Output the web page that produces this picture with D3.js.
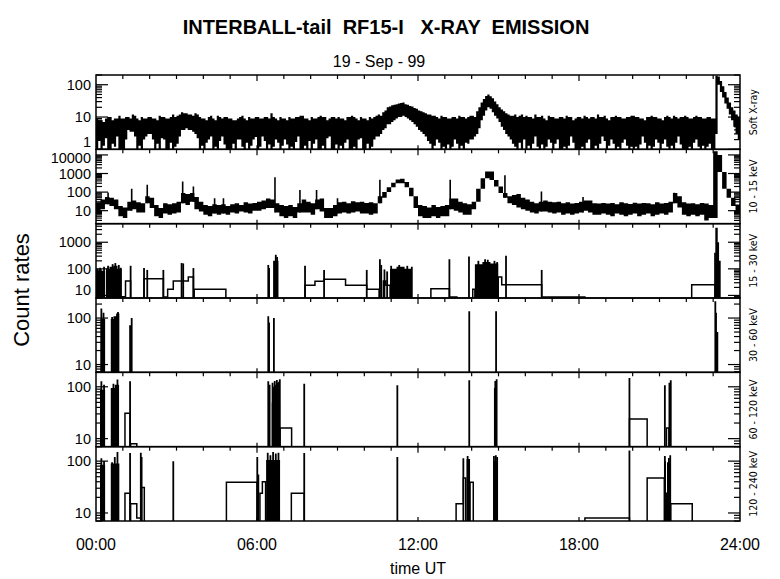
<!DOCTYPE html>
<html><head><meta charset="utf-8">
<script src="https://cdn.jsdelivr.net/npm/d3@7"></script>
<style>
body{margin:0;background:#fff}
svg{display:block}
text{font-family:"Liberation Sans",Arial,sans-serif;fill:#000}
</style>
</head><body>
<svg id="chart" width="780" height="579"></svg>
<script>
// ---------------- DATA ----------------
const titleText = "INTERBALL-tail  RF15-I   X-RAY  EMISSION";
const dateText = "19 - Sep - 99";
const timeTickHours = [0, 6, 12, 18, 24];
const timeTickLabels = ["00:00", "06:00", "12:00", "18:00", "24:00"];
const channelNames = ["Soft X-ray", "10 - 15 keV", "15 - 30 keV", "30 - 60 keV", "60 - 120 keV", "120 - 240 keV"];
const channelDomains = [[1, 200], [2, 20000], [8, 5000], [6.8, 270], [7, 190], [7, 190]];
const channelTickLabels = [[1, 10, 100], [10, 100, 1000, 10000], [10, 100, 1000], [10, 100], [10, 100], [10, 100]];

// Soft X-ray: max / min count rate in each 5-minute bin (12 per hour, 288 bins)
const softHi = [
 9,8,8,7,9,10,10,8,9,9,11,9,
 9,10,10,9,12,11,9,8,10,9,9,10,
 10,9,9,8,11,10,10,9,9,10,12,10,
 11,12,14,13,13,12,12,11,13,12,10,9,
 9,8,10,11,9,8,11,10,9,10,10,9,
 9,8,8,9,10,11,9,8,10,9,9,10,
 10,9,9,10,10,9,13,10,9,8,10,9,
 9,8,10,9,9,10,10,11,11,9,9,8,
 10,9,9,10,11,10,10,8,9,10,10,9,
 10,9,9,8,10,10,11,10,9,8,10,9,
 9,8,10,9,10,11,12,11,14,16,20,21,
 23,24,25,26,27,28,25,24,22,21,19,18,
 16,15,14,13,12,12,11,11,10,9,11,10,
 10,9,9,10,10,9,11,10,10,9,10,11,
 11,10,15,20,28,36,45,50,44,38,30,25,
 20,17,15,13,12,11,11,12,10,11,12,10,
 11,10,10,9,12,10,10,11,9,8,11,10,
 10,9,9,10,10,9,11,10,10,8,9,10,
 10,9,11,10,9,10,10,9,12,10,10,11,
 9,8,10,10,11,10,10,9,9,10,10,11,
 11,10,10,9,9,8,10,10,11,10,10,9,
 9,8,10,11,10,9,11,10,9,10,10,11,
 10,9,9,10,11,10,10,9,9,10,10,9,
 9,190,180,130,90,60,40,28,20,16,12,10];
const softLo = [
 1,1.8,1,1.3,2.2,1,1,1.5,1.2,2.5,1,1,
 1,2,4,3.5,3.5,2.5,1,1.3,1,2,2.5,3,
 3,2,1,1.5,1,2.2,2,1,1,1.6,1,1.2,
 1.5,2.5,4,4,4.5,4,4,3.5,3,2.2,1,1.3,
 1,1.6,2,2.5,1,1.2,1,1.8,2.5,1.4,1,1,
 1,1.5,1,2,2,1.2,1,1.6,1,1.3,2,2.4,
 1,1.2,2.5,1.8,1,1.4,1,1.2,2,1.6,1,1.3,
 2,1.4,1,1.2,1,1.7,2.5,1,1,1.3,1,1.8,
 1,1.5,2,1,1,1.3,1,2.2,2.5,1,1,1.4,
 1,1.3,1,1.6,2,1,1,1.2,1,2,2.2,1,
 1,1.5,1,1.2,2,2.5,2.5,3,4,4.5,6,6,
 7,8,9,10,10,11,10,9,8,7,6,5,
 4,3.5,3,2.5,1.8,1.5,1,1.3,2,1.6,1,1.2,
 1,1.4,1,1.2,2,1.5,1,1.3,1,1.6,1.5,2,
 2,2.5,3,4.5,8,11,16,20,18,14,11,9,
 7,5,4,3,2.5,2,1.5,1.2,1,1.6,1,2,
 1,1.3,1,1.5,2.5,1.2,1,1.4,1,1.2,2,1.6,
 1,1.5,2,1,1,1.2,1,1.3,2.5,1.6,1,1,
 1,1.2,1,1.6,2,1,1,1.3,1,1.5,2.5,1.8,
 1,1.3,2,1.5,1,1.2,1,1.6,2,1.3,1,1.2,
 1,1.2,1,1.4,2.5,1.6,1,1.3,1,1.2,2,1.6,
 1,1.5,2,1.2,1,1.3,1,1.6,2.5,1.4,1,1,
 1,1.2,1,1.6,2,1.2,1,1.3,1,1.2,1.5,1,
 1,3,100,60,40,26,18,12,8,5,3,2];

// 10-15 keV: max / min count rate in each 10-minute bin (144 bins)
const hardHi = [
 28,40,55,50,40,18, 15,30,35,28,25,60, 50,20,14,25,22,25, 30,90,80,90,55,30,
 20,18,22,20,22,18, 22,25,20,28,24,26, 30,35,45,40,25,20, 18,20,16,25,40,30,
 25,40,45,14,14,20, 28,30,25,32,28,30, 26,28,25,60,100,180, 320,480,520,350,170,60,
 20,18,15,20,16,18, 20,45,45,30,25,22, 30,150,550,1300,1300,450, 200,90,60,70,80,50,
 40,30,25,30,35,30, 28,30,25,28,24,26, 30,35,35,25,24,26, 24,26,22,28,25,23,
 27,24,26,25,22,28, 24,26,30,90,60,28, 24,25,22,26,24,20, 16000,10000,1200,150,50,20];
const hardLo = [
 8,12,22,18,12,5, 4,10,12,8,8,25, 14,5,4,7,6,7, 8,25,20,30,12,9,
 6,5,7,6,7,6, 8,7,9,8,7,10, 10,12,14,14,8,5, 4,5,4,8,8,8,
 6,12,9,4,4,5, 7,8,7,8,9,7, 7,6,7,25,50,100, 180,300,300,180,60,14,
 5,4,4,5,4,5, 5,12,10,8,6,6, 12,30,150,550,450,200, 90,50,25,20,15,12,
 10,8,7,9,9,8, 7,8,6,7,6,7, 8,10,8,6,6,7, 6,5,7,6,5,6,
 7,5,6,7,5,6, 7,6,8,25,15,6, 5,6,5,6,3,4, 4,1200,150,50,18,8];
// 10-15 keV: short spikes [hour, rate]
const hardSpikes = [[0.45,95],[1.33,150],[1.91,245],[3.23,370],[3.63,200],[4.42,47],[4.75,47],[6.67,620],[7.60,130],[8.22,130],[9.00,47],[10.58,460],[11.90,47],[13.20,460],[15.24,800],[16.60,107],[18.15,55],[21.55,92]];

// Hard channels: histogram steps [startHour, endHour, rate],
// isolated spikes [hour, rate], dense bursts [startHour, endHour, rate]
const steps15 = [[0.96,1.10,9],[1.10,1.29,35],[1.79,2.51,42],[2.51,2.67,8.7],[2.67,2.88,17],[2.88,3.44,35],[3.44,3.63,49],[3.66,4.84,17],[7.79,8.16,24],[8.16,8.50,34],[8.50,9.30,41],[9.30,10.09,24],[10.09,10.55,17],[10.71,10.80,35],[10.80,10.96,24],[12.48,13.17,18],[13.17,13.45,8.7],[14.04,14.12,17],[14.99,15.12,49],[15.12,16.61,25],[16.61,18.22,8.7],[22.20,23.07,25]];
const spikes15 = [[0.05,100],[0.15,110],[0.30,120],[0.45,130],[0.62,150],[0.72,165],[0.85,140],[0.92,110],[1.29,130],[1.79,107],[1.91,91],[2.51,91],[3.19,165],[3.25,160],[3.63,107],[6.42,140],[6.45,107],[6.70,340],[6.75,280],[7.79,130],[8.50,91],[10.09,91],[10.58,230],[10.63,140],[10.75,95],[10.85,80],[11.00,130],[11.30,140],[11.60,130],[11.77,120],[13.17,230],[13.90,290],[14.25,200],[14.50,230],[14.60,220],[14.85,200],[14.95,180],[15.28,310],[16.61,91],[23.07,400]];
const bursts15 = [[0.00,0.34,85],[0.37,0.50,100],[0.50,0.65,120],[0.65,0.80,130],[0.80,0.96,100],[6.60,6.80,200],[10.96,11.20,100],[11.20,11.50,120],[11.50,11.77,100],[14.12,14.40,150],[14.40,14.70,180],[14.70,14.99,160],[23.08,23.17,3500],[23.17,23.22,1000],[23.22,23.28,200]];

const steps30 = [];
const spikes30 = [[0.20,160],[0.28,130],[0.60,105],[0.82,135],[1.27,70],[1.33,100],[6.42,110],[6.45,80],[6.63,100],[13.91,140],[14.91,140],[23.08,230]];
const bursts30 = [[0.17,0.34,95],[0.55,0.65,95],[0.65,0.75,110],[0.75,0.87,125],[23.07,23.14,130],[23.14,23.19,50]];

const steps60 = [[1.08,1.27,31],[1.29,1.52,8],[6.86,7.29,16],[19.88,20.54,24],[21.26,21.35,16]];
const spikes60 = [[0.20,128],[0.30,110],[0.65,115],[0.80,138],[1.27,128],[6.42,128],[6.47,110],[6.58,120],[6.62,100],[6.66,130],[6.70,110],[6.74,135],[6.78,120],[6.82,125],[6.85,140],[7.76,115],[11.23,107],[13.91,134],[14.88,129],[14.93,140],[19.88,148],[21.20,107],[21.37,120],[21.42,134]];
const bursts60 = [[0.15,0.34,88],[0.55,0.70,95],[0.70,0.86,110],[6.55,6.86,50],[14.83,14.93,95]];

const steps120 = [[1.08,1.27,24],[1.29,1.52,15],[1.52,1.67,8],[1.70,1.80,31],[4.86,6.00,39],[6.11,6.20,24],[6.20,6.32,40],[7.28,7.76,24],[13.42,13.69,15],[13.69,13.78,47],[13.94,14.06,39],[18.22,19.88,8],[20.54,21.18,47],[21.24,21.28,24],[21.42,22.22,15]];
const spikes120 = [[0.20,114],[0.30,100],[0.60,95],[0.70,120],[0.80,150],[1.27,143],[1.67,145],[1.70,120],[2.88,99],[6.01,120],[6.05,55],[6.40,145],[6.50,130],[6.60,150],[6.70,140],[6.80,145],[7.76,143],[11.23,120],[13.69,114],[13.85,125],[14.83,125],[14.90,130],[14.95,120],[19.88,160],[21.20,125],[21.35,115],[21.40,130]];
const bursts120 = [[0.15,0.34,85],[0.55,0.87,90],[6.34,6.86,105],[13.81,13.94,110],[14.81,14.96,100],[21.18,21.24,100],[21.28,21.42,95]];

// ---------------- DRAWING ----------------
const W = 780, H = 579, X0 = 96, X1 = 740, TOP = 75, BOT = 521;
const PH = (BOT - TOP) / 6;
const svg = d3.select("#chart");
svg.append("rect").attr("width", W).attr("height", H).attr("fill", "#fff");

const x = d3.scaleLinear().domain([0, 24]).range([X0, X1]);
const ys = channelDomains.map((dom, i) =>
  d3.scaleLog().domain(dom).range([TOP + (i + 1) * PH, TOP + i * PH]).clamp(true));

const defs = svg.append("defs");
channelDomains.forEach((d, i) => {
  defs.append("clipPath").attr("id", "clip" + i).append("rect")
    .attr("x", X0).attr("y", TOP + i * PH).attr("width", X1 - X0).attr("height", PH);
});

// band drawer: union of per-bin min..max boxes in a single path (no seams)
function band(g, hi, lo, binHours, y) {
  let d = "";
  hi.forEach((v, i) => {
    const xa = x(i * binHours), xb = x((i + 1) * binHours);
    let ya = y(v), yb = y(lo[i]);
    if (yb - ya < 1.2) { const m = (ya + yb) / 2; ya = m - 0.6; yb = m + 0.6; }
    d += `M${xa},${ya}H${xb}V${yb}H${xa}Z`;
  });
  g.append("path").attr("d", d).attr("fill", "#000").attr("fill-rule", "nonzero");
}

// Panel 1: soft X-ray
const g0 = svg.append("g").attr("clip-path", "url(#clip0)");
band(g0, softHi, softLo, 1 / 12, ys[0]);

// Panel 2: 10-15 keV
const g1 = svg.append("g").attr("clip-path", "url(#clip1)");
band(g1, hardHi, hardLo, 1 / 6, ys[1]);
g1.selectAll("line").data(hardSpikes).join("line")
  .attr("x1", d => x(d[0])).attr("x2", d => x(d[0]))
  .attr("y1", d => ys[1](hardLo[Math.floor(d[0] * 6)]))
  .attr("y2", d => ys[1](d[1]))
  .attr("stroke", "#000").attr("stroke-width", 1.6);

// Panels 3-6: histogram channels
const hardSets = [
  [steps15, spikes15, bursts15],
  [steps30, spikes30, bursts30],
  [steps60, spikes60, bursts60],
  [steps120, spikes120, bursts120]
];
function stepPath(steps, y, bottom) {
  let d = "", prevEnd = null;
  steps.forEach(([t0, t1, v]) => {
    if (prevEnd !== null && Math.abs(prevEnd - t0) < 1e-6) {
      d += `V${y(v)}H${x(t1)}`;
    } else {
      if (prevEnd !== null) d += `V${bottom}`;
      d += `M${x(t0)},${bottom}V${y(v)}H${x(t1)}`;
    }
    prevEnd = t1;
  });
  if (prevEnd !== null) d += `V${bottom}`;
  return d;
}
hardSets.forEach(([steps, spikes, bursts], k) => {
  const pi = k + 2, y = ys[pi], bottom = TOP + (pi + 1) * PH;
  const g = svg.append("g").attr("clip-path", `url(#clip${pi})`);
  let bd = "";
  bursts.forEach(([t0, t1, v]) => {
    bd += `M${x(t0)},${bottom}V${y(v)}H${Math.max(x(t1), x(t0) + 1)}V${bottom}Z`;
  });
  g.append("path").attr("d", bd).attr("fill", "#000");
  g.append("path").attr("d", stepPath(steps, y, bottom))
    .attr("fill", "none").attr("stroke", "#000").attr("stroke-width", 1.5);
  g.selectAll("line").data(spikes).join("line")
    .attr("x1", d => x(d[0])).attr("x2", d => x(d[0]))
    .attr("y1", bottom).attr("y2", d => y(d[1]))
    .attr("stroke", "#000").attr("stroke-width", 1.8);
});

// Frames and axes
function logTicks(dom) {
  const out = [];
  const d0 = Math.floor(Math.log10(dom[0])), d1 = Math.ceil(Math.log10(dom[1]));
  for (let d = d0; d <= d1; d++)
    for (let m = 1; m <= 9; m++) {
      const v = m * Math.pow(10, d);
      if (v >= dom[0] * 0.999 && v <= dom[1] * 1.001) out.push({ v, major: m === 1 });
    }
  return out;
}
const axes = svg.append("g").attr("stroke", "#000").attr("fill", "none");
channelDomains.forEach((dom, i) => {
  const top = TOP + i * PH, bottom = top + PH, y = ys[i];
  axes.append("rect").attr("x", X0).attr("y", top).attr("width", X1 - X0).attr("height", PH)
    .attr("stroke-width", 1.5);
  logTicks(dom).forEach(t => {
    const yy = y(t.v), len = t.major ? 12 : 6;
    axes.append("line").attr("x1", X0).attr("x2", X0 + len).attr("y1", yy).attr("y2", yy).attr("stroke-width", 1.2);
    axes.append("line").attr("x1", X1).attr("x2", X1 - len).attr("y1", yy).attr("y2", yy).attr("stroke-width", 1.2);
  });
  for (let h = 1; h < 24; h++) {
    const xx = x(h), major = h % 6 === 0;
    axes.append("line").attr("x1", xx).attr("x2", xx).attr("y1", top).attr("y2", top + (major ? 6 : 4)).attr("stroke-width", 1.2);
    if (major) axes.append("line").attr("x1", xx).attr("x2", xx).attr("y1", bottom).attr("y2", bottom - 4).attr("stroke-width", 1.2);
  }
  channelTickLabels[i].forEach(v => {
    const yy = Math.max(Math.min(y(v), bottom - 8), top + 8);
    svg.append("text").attr("x", 91).attr("y", yy).attr("dy", "0.36em")
      .attr("text-anchor", "end").attr("font-size", 14.5).text(v);
  });
  svg.append("text")
    .attr("transform", `translate(757,${top + PH / 2}) rotate(-90)`)
    .attr("text-anchor", "middle").attr("font-size", 10.5)
    .style("font-family", "'DejaVu Sans Condensed', 'DejaVu Sans', sans-serif")
    .style("font-stretch", "condensed")
    .text(channelNames[i]);
});

timeTickHours.forEach((h, i) => {
  svg.append("text").attr("x", x(h)).attr("y", 550).attr("text-anchor", "middle")
    .attr("font-size", 16).text(timeTickLabels[i]);
});
svg.append("text").attr("x", x(12)).attr("y", 574).attr("text-anchor", "middle")
  .attr("font-size", 16).text("time UT");

svg.append("text").attr("transform", "translate(29,290) rotate(-90)")
  .attr("text-anchor", "middle").attr("font-size", 22).text("Count rates");

svg.append("text").attr("x", 386).attr("y", 34).attr("text-anchor", "middle")
  .attr("font-size", 20).attr("font-weight", "bold").style("white-space", "pre").text(titleText);
svg.append("text").attr("x", 379).attr("y", 67).attr("text-anchor", "middle")
  .attr("font-size", 16).style("white-space", "pre").text(dateText);
</script>
</body></html>
